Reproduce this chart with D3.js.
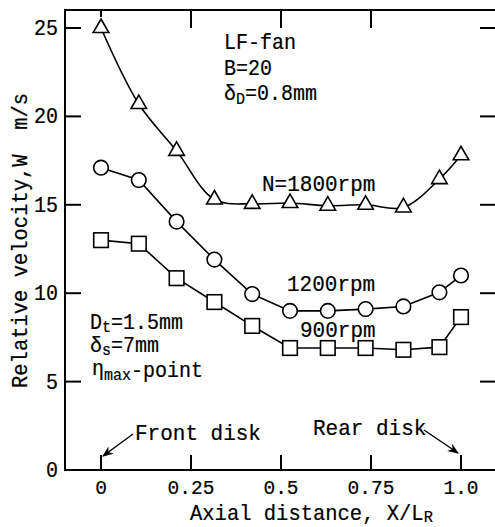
<!DOCTYPE html>
<html>
<head>
<meta charset="utf-8">
<script src="https://cdn.jsdelivr.net/npm/d3@7/dist/d3.min.js"></script>
<style>
  html, body { margin: 0; padding: 0; background: #fff; }
  svg { display: block; }
  text { font-family: "Liberation Mono", "Courier New", monospace; fill: #000; }
</style>
</head>
<body>
<svg id="chart" width="495" height="527"></svg>
<script>
// Axial positions X/L_R of the measuring stations
const xPos = [0, 0.105, 0.21, 0.315, 0.42, 0.525, 0.63, 0.735, 0.84, 0.94, 1.0];
// Relative velocity W (m/s) at each station, per rotational speed
const w1800 = [25.0, 20.7, 18.05, 15.3, 15.05, 15.1, 14.95, 15.0, 14.85, 16.45, 17.8];
const w1200 = [17.1, 16.4, 14.05, 11.9, 9.95, 9.0, 9.0, 9.1, 9.25, 10.05, 11.0];
const w900  = [13.0, 12.8, 10.85, 9.5, 8.15, 6.9, 6.9, 6.9, 6.8, 6.95, 8.65];
// Tick values and labels
const xTicks = [0, 0.25, 0.5, 0.75, 1.0];
const xTickLabels = ["0", "0.25", "0.5", "0.75", "1.0"];
const xTopTicks = [0, 0.25, 0.5, 0.75];
const yTicks = [0, 5, 10, 15, 20, 25];

const svg = d3.select("#chart");
const SY = 1.08; // slight vertical stretch of the typewriter lettering

const x = d3.scaleLinear().domain([-0.1, 1.1]).range([65, 497]);
const y = d3.scaleLinear().domain([0, 25]).range([470, 28]);
const yTop = 10;

// text helper: segments [{t, sub, up}] drawn with optional sub/superscript shifts
function label(px, py, segs, opts = {}) {
  const size = opts.size || 20;
  const subShift = opts.subShift || 4;
  const t = svg.append("text")
    .attr("transform", `translate(${px},${py}) ${opts.rotate ? "rotate(-90)" : ""} scale(1,${SY})`)
    .attr("text-anchor", opts.anchor || "start")
    .attr("font-size", size)
    .attr("stroke", "#000").attr("stroke-width", 0.2)
    .style("white-space", "pre");
  let shifted = 0;
  segs.forEach(s => {
    const sp = t.append("tspan").text(s.t);
    if (s.sub) {
      sp.attr("font-size", size * 0.75).attr("dy", subShift - shifted);
      shifted = subShift;
    } else if (s.up) {
      sp.attr("dy", -2 - shifted);
      shifted = -2;
    } else {
      sp.attr("dy", -shifted);
      shifted = 0;
    }
  });
  return t;
}

// frame
const frame = svg.append("g").attr("stroke", "#000").attr("stroke-width", 2).attr("fill", "none");
frame.append("rect")
  .attr("x", x(-0.1)).attr("y", yTop)
  .attr("width", x(1.1) - x(-0.1)).attr("height", y(0) - yTop);

// ticks (inward on all sides)
yTicks.filter(v => v > 0).forEach(v => {
  frame.append("line").attr("x1", x(-0.1)).attr("x2", x(-0.1) + 16).attr("y1", y(v)).attr("y2", y(v));
  frame.append("line").attr("x1", x(1.1)).attr("x2", x(1.1) - 17).attr("y1", y(v)).attr("y2", y(v));
});
xTicks.forEach(v => {
  frame.append("line").attr("x1", x(v)).attr("x2", x(v)).attr("y1", y(0)).attr("y2", y(0) - 15);
});
xTopTicks.forEach(v => {
  frame.append("line").attr("x1", x(v)).attr("x2", x(v)).attr("y1", yTop).attr("y2", yTop + (v === 0 ? 7 : 18));
});

// tick labels
yTicks.forEach(v => label(58, y(v) + 7, [{t: String(v)}], {anchor: "end", size: 20}));
xTicks.forEach((v, i) => label(x(v), 494, [{t: xTickLabels[i]}], {anchor: "middle", size: 19.5}));

// axis titles
label(27, 388, [{t: "Relative velocity,W  m/s"}], {rotate: true, size: 20.5});
label(190, 520, [{t: "Axial distance, X/L"}, {t: "R", sub: true}], {size: 20.5, subShift: 2});

// series lines
const smooth = d3.line().x((d, i) => x(xPos[i])).y(d => y(d)).curve(d3.curveCatmullRom.alpha(0.5));
const straight = d3.line().x((d, i) => x(xPos[i])).y(d => y(d));
const lines = svg.append("g").attr("fill", "none").attr("stroke", "#000").attr("stroke-width", 1.6);
lines.append("path").attr("d", smooth(w1800));
lines.append("path").attr("d", straight(w1200));
lines.append("path").attr("d", straight(w900));

// markers
const mk = svg.append("g").attr("fill", "#fff").attr("stroke", "#000").attr("stroke-width", 1.6);
mk.selectAll(".tri").data(w1800).join("path")
  .attr("transform", (d, i) => `translate(${x(xPos[i])},${y(d)})`)
  .attr("d", d3.symbol(d3.symbolTriangle, 105));
mk.selectAll(".cir").data(w1200).join("circle")
  .attr("cx", (d, i) => x(xPos[i])).attr("cy", d => y(d)).attr("r", 7.3);
mk.selectAll(".sq").data(w900).join("rect")
  .attr("x", (d, i) => x(xPos[i]) - 7.3).attr("y", d => y(d) - 7.3)
  .attr("width", 14.6).attr("height", 14.6);

// series labels
label(262, 191, [{t: "N=1800rpm"}], {size: 21});
label(287, 291, [{t: "1200rpm"}], {size: 21});
label(300, 337, [{t: "900rpm"}], {size: 21});

// condition notes
label(224, 49, [{t: "LF-fan"}]);
label(224, 75, [{t: "B=20"}]);
label(224, 100, [{t: "δ"}, {t: "D", sub: true}, {t: "=0.8mm"}]);
label(90, 329, [{t: "D"}, {t: "t", sub: true}, {t: "=1.5mm"}], {subShift: 3});
label(90, 352, [{t: "δ"}, {t: "s", sub: true}, {t: "=7mm"}], {subShift: 3});
label(92, 377, [{t: "η", up: true}, {t: "max", sub: true}, {t: "-point"}], {subShift: 3});

// disk markers with arrows
svg.append("defs").append("marker")
  .attr("id", "arrow").attr("viewBox", "0 0 10 10").attr("refX", 9).attr("refY", 5)
  .attr("markerWidth", 8).attr("markerHeight", 8).attr("orient", "auto")
  .append("path").attr("d", "M0,1 L10,5 L0,9 L3,5 Z").attr("fill", "#000");
label(135, 440, [{t: "Front disk"}], {size: 21});
label(313, 435, [{t: "Rear disk"}], {size: 21});
const arr = svg.append("g").attr("stroke", "#000").attr("stroke-width", 1.4);
arr.append("line").attr("x1", 133).attr("y1", 434).attr("x2", x(0) + 2).attr("y2", 456).attr("marker-end", "url(#arrow)");
arr.append("line").attr("x1", 424).attr("y1", 430).attr("x2", x(1.0) - 3).attr("y2", 453).attr("marker-end", "url(#arrow)");
</script>
</body>
</html>
